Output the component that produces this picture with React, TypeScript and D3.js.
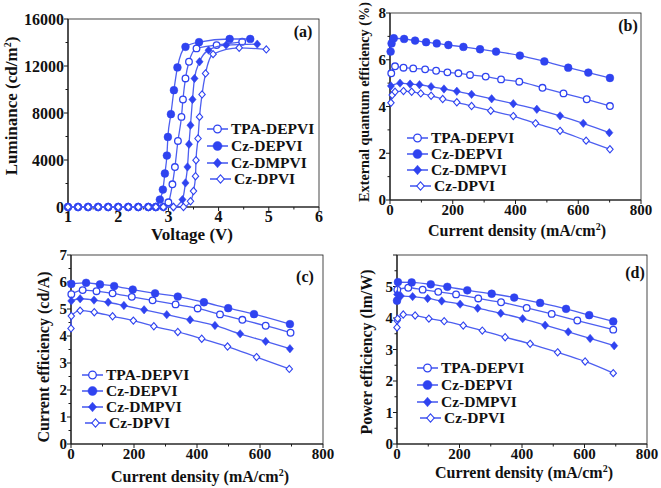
import React from "react";
import * as d3 from "d3";

type Pt = [number, number];

const BLUE = "#2f43f0";
const LINE = "#4d5ff0";
const AXIS = "#1a1a1a";
const FONT = "'Liberation Serif', 'Times New Roman', serif";

const seriesNames = ["TPA-DEPVI", "Cz-DEPVI", "Cz-DMPVI", "Cz-DPVI"];
const markerKinds = ["openCircle", "filledCircle", "filledDiamond", "openDiamond"];

// (a) Luminance vs voltage
const lumTPA: Pt[] = [[1.0,0],[1.2,0],[1.4,0],[1.6,0],[1.8,0],[2.0,0],[2.2,0],[2.4,0],[2.6,0],[2.75,0],[2.9,0],[3.0,400],[3.08,1930],[3.13,3400],[3.19,5620],[3.26,7670],[3.29,9150],[3.34,10940],[3.41,12360],[3.56,13500],[3.96,13780],[4.47,14060]];
const lumDEPVI: Pt[] = [[1.0,0],[1.2,0],[1.4,0],[1.6,0],[1.8,0],[2.0,0],[2.2,0],[2.4,0],[2.6,0],[2.75,0],[2.83,630],[2.89,1480],[2.93,2850],[2.97,4380],[2.99,5960],[3.05,7900],[3.11,9940],[3.18,11880],[3.34,13630],[3.61,14030],[4.22,14300],[4.63,14300]];
const lumDMPVI: Pt[] = [[1.0,0],[1.2,0],[1.4,0],[1.6,0],[1.8,0],[2.0,0],[2.2,0],[2.4,0],[2.6,0],[2.75,0],[2.9,0],[3.1,0],[3.28,630],[3.34,2050],[3.38,3410],[3.41,5340],[3.44,6960],[3.48,9150],[3.52,10940],[3.62,12360],[3.8,13350],[4.15,13780],[4.77,13860]];
const lumDPVI: Pt[] = [[1.0,0],[1.2,0],[1.4,0],[1.6,0],[1.8,0],[2.0,0],[2.2,0],[2.4,0],[2.6,0],[2.75,0],[2.9,0],[3.1,0],[3.3,0],[3.44,490],[3.5,1360],[3.54,2620],[3.55,3980],[3.59,5830],[3.62,7670],[3.67,9580],[3.74,11370],[3.89,13010],[4.41,13550],[4.95,13410]];

// (b) EQE vs current density
const eqeTPA: Pt[] = [[4,5.42],[16,5.72],[43,5.66],[74,5.63],[112,5.59],[147,5.53],[183,5.46],[218,5.42],[255,5.35],[305,5.28],[354,5.16],[412,5.06],[486,4.8],[553,4.56],[627,4.31],[701,4.02]];
const eqeDEPVI: Pt[] = [[2,6.35],[5,6.7],[12,6.92],[45,6.89],[80,6.82],[115,6.75],[149,6.7],[186,6.63],[234,6.55],[287,6.45],[338,6.35],[414,6.18],[492,5.93],[568,5.66],[632,5.45],[701,5.22]];
const eqeDMPVI: Pt[] = [[3,4.88],[32,5.0],[64,4.96],[94,4.93],[131,4.85],[172,4.75],[213,4.65],[260,4.52],[324,4.33],[393,4.12],[468,3.88],[542,3.6],[616,3.28],[699,2.88]];
const eqeDPVI: Pt[] = [[3,4.16],[7,4.49],[16,4.63],[43,4.66],[69,4.63],[98,4.56],[131,4.46],[168,4.32],[213,4.18],[260,4.02],[321,3.82],[393,3.59],[464,3.28],[542,2.96],[625,2.54],[701,2.17]];

// (c) Current efficiency
const ceTPA: Pt[] = [[1,5.55],[37,5.7],[81,5.66],[132,5.58],[193,5.45],[259,5.32],[332,5.17],[402,5.02],[473,4.8],[544,4.6],[618,4.38],[697,4.12]];
const ceDEPVI: Pt[] = [[1,5.93],[48,5.97],[92,5.91],[137,5.85],[196,5.72],[267,5.58],[339,5.46],[422,5.25],[499,5.03],[581,4.81],[695,4.44]];
const ceDMPVI: Pt[] = [[1,5.3],[29,5.38],[73,5.33],[118,5.25],[168,5.13],[232,4.97],[304,4.79],[378,4.6],[457,4.39],[537,4.08],[618,3.8],[695,3.53]];
const ceDPVI: Pt[] = [[0,4.28],[1,4.74],[29,4.94],[74,4.88],[132,4.73],[198,4.57],[263,4.36],[339,4.15],[415,3.9],[497,3.61],[589,3.22],[693,2.78]];

// (d) Power efficiency
const peTPA: Pt[] = [[1,4.9],[36,4.96],[82,4.9],[132,4.83],[189,4.75],[260,4.62],[333,4.5],[415,4.32],[495,4.13],[577,3.92],[692,3.63]];
const peDEPVI: Pt[] = [[0,4.55],[3,5.14],[47,5.13],[108,5.07],[161,4.99],[225,4.88],[303,4.77],[375,4.65],[458,4.48],[541,4.29],[615,4.09],[692,3.89]];
const peDMPVI: Pt[] = [[0.5,4.75],[12,4.7],[50,4.68],[98,4.62],[143,4.54],[202,4.44],[258,4.31],[332,4.15],[402,3.98],[474,3.77],[548,3.56],[618,3.35],[695,3.12]];
const peDPVI: Pt[] = [[0,3.7],[0.5,3.92],[2,3.98],[20,4.11],[58,4.08],[102,3.98],[151,3.9],[212,3.76],[273,3.6],[346,3.39],[426,3.18],[514,2.91],[602,2.62],[692,2.25]];

const voltTicks = [1, 2, 3, 4, 5, 6];
const voltMinor = [1.5, 2.5, 3.5, 4.5, 5.5];
const lumTicks = [0, 4000, 8000, 12000, 16000];
const lumMinor = [2000, 6000, 10000, 14000];
const jTicks = [0, 200, 400, 600, 800];
const jMinor = [100, 300, 500, 700];
const eqeTicks = [0, 2, 4, 6, 8];
const eqeMinor = [1, 3, 5, 7];
const ceTicks = [0, 1, 2, 3, 4, 5, 6, 7];
const ceMinor = [0.5, 1.5, 2.5, 3.5, 4.5, 5.5, 6.5];
const peTicks = [0, 1, 2, 3, 4, 5, 6];
const peLabels = ["0", "1", "2", "3", "4", "5", ""];
const peMinor = [0.5, 1.5, 2.5, 3.5, 4.5, 5.5];

interface PanelCfg {
  box: { l: number; r: number; t: number; b: number };
  xDomain: [number, number];
  yDomain: [number, number];
  xTicks: number[];
  xMinor: number[];
  yTicks: number[];
  yMinor: number[];
  yLabels?: string[];
  series: Pt[][];
  xTitle: React.ReactNode;
  yTitle: React.ReactNode;
  xTitlePos: [number, number];
  yTitlePos: [number, number];
  yTitleSize?: number;
  tag: string;
  tagPos: [number, number];
  legend: { x: number; ys: number[]; indent: number };
  tickSize: number;
  titleSize: number;
}

function Marker({ kind, x, y, s = 1 }: { kind: string; x: number; y: number; s?: number }) {
  if (kind === "openCircle")
    return <circle cx={x} cy={y} r={3.3 * s} fill="#fff" stroke={BLUE} strokeWidth={1.3} />;
  if (kind === "filledCircle")
    return <circle cx={x} cy={y} r={3.9 * s} fill={BLUE} stroke={BLUE} strokeWidth={0.5} />;
  const filled = kind === "filledDiamond";
  const hw = (filled ? 3.6 : 3.2) * s;
  const hh = (filled ? 4.2 : 3.6) * s;
  const path = d3.path();
  path.moveTo(x, y - hh);
  path.lineTo(x + hw, y);
  path.lineTo(x, y + hh);
  path.lineTo(x - hw, y);
  path.closePath();
  return (
    <path
      d={path.toString()}
      fill={filled ? BLUE : "#fff"}
      stroke={BLUE}
      strokeWidth={filled ? 0.5 : 1.1}
    />
  );
}

function Panel({ cfg }: { cfg: PanelCfg }) {
  const { box } = cfg;
  const x = d3.scaleLinear().domain(cfg.xDomain).range([box.l, box.r]);
  const y = d3.scaleLinear().domain(cfg.yDomain).range([box.b, box.t]);
  const line = d3
    .line<Pt>()
    .x((d) => x(d[0]))
    .y((d) => y(d[1]))
    .curve(d3.curveMonotoneX);
  const fmt = (v: number) => String(v);
  return (
    <g>
      <rect x={box.l} y={box.t} width={box.r - box.l} height={box.b - box.t} fill="none" stroke={AXIS} strokeWidth={0.8} />
      <line x1={box.l} x2={box.l} y1={box.t} y2={box.b} stroke={AXIS} strokeWidth={1.2} />
      <line x1={box.l} x2={box.r} y1={box.b} y2={box.b} stroke={AXIS} strokeWidth={1.2} />
      {cfg.xTicks.map((t) => (
        <g key={"xt" + t}>
          <line x1={x(t)} x2={x(t)} y1={box.b} y2={box.b + 4} stroke={AXIS} strokeWidth={1} />
          <text x={x(t)} y={box.b + 15} textAnchor="middle" fontSize={cfg.tickSize} fontWeight="bold" fontFamily={FONT} fill="#111">
            {fmt(t)}
          </text>
        </g>
      ))}
      {cfg.xMinor.map((t) => (
        <line key={"xm" + t} x1={x(t)} x2={x(t)} y1={box.b} y2={box.b + 2.5} stroke={AXIS} strokeWidth={1} />
      ))}
      {cfg.yTicks.map((t, i) => (
        <g key={"yt" + t}>
          <line x1={box.l - 4} x2={box.l} y1={y(t)} y2={y(t)} stroke={AXIS} strokeWidth={1} />
          <text x={box.l - 4} y={y(t)} dy="0.36em" textAnchor="end" fontSize={cfg.tickSize} fontWeight="bold" fontFamily={FONT} fill="#111">
            {cfg.yLabels ? cfg.yLabels[i] : fmt(t)}
          </text>
        </g>
      ))}
      {cfg.yMinor.map((t) => (
        <line key={"ym" + t} x1={box.l - 2.5} x2={box.l} y1={y(t)} y2={y(t)} stroke={AXIS} strokeWidth={1} />
      ))}
      {cfg.series.map((s, i) => (
        <g key={"s" + i}>
          <path d={line(s) || ""} fill="none" stroke={LINE} strokeWidth={1.3} />
          {s.map((p, j) => (
            <Marker key={j} kind={markerKinds[i]} x={x(p[0])} y={y(p[1])} />
          ))}
        </g>
      ))}
      {seriesNames.map((n, i) => {
        const lx = cfg.legend.x + (i === 3 ? cfg.legend.indent : 0);
        const ly = cfg.legend.ys[i];
        return (
          <g key={"lg" + i}>
            <line x1={lx} x2={lx + 21} y1={ly} y2={ly} stroke={LINE} strokeWidth={1.6} />
            <Marker kind={markerKinds[i]} x={lx + 10.5} y={ly} s={1.15} />
            <text x={lx + 24} y={ly} dy="0.35em" fontSize={15.5} fontWeight="bold" fontFamily={FONT} fill="#111">
              {n}
            </text>
          </g>
        );
      })}
      <text x={cfg.xTitlePos[0]} y={cfg.xTitlePos[1]} textAnchor="middle" fontSize={cfg.titleSize} fontWeight="bold" fontFamily={FONT} fill="#111">
        {cfg.xTitle}
      </text>
      <text
        transform={`translate(${cfg.yTitlePos[0]},${cfg.yTitlePos[1]}) rotate(-90)`}
        textAnchor="middle"
        fontSize={cfg.yTitleSize ?? cfg.titleSize}
        fontWeight="bold"
        fontFamily={FONT}
        fill="#111"
      >
        {cfg.yTitle}
      </text>
      <text x={cfg.tagPos[0]} y={cfg.tagPos[1]} textAnchor="middle" fontSize={16} fontWeight="bold" fontFamily={FONT} fill="#111">
        {cfg.tag}
      </text>
    </g>
  );
}

const jTitle = (
  <>
    Current density (mA/cm<tspan dy={-6} fontSize={10}>2</tspan>
    <tspan dy={6}>)</tspan>
  </>
);

const panels: PanelCfg[] = [
  {
    box: { l: 68, r: 319, t: 19, b: 207 },
    xDomain: [1, 6],
    yDomain: [0, 16000],
    xTicks: voltTicks,
    xMinor: voltMinor,
    yTicks: lumTicks,
    yMinor: lumMinor,
    series: [lumTPA, lumDEPVI, lumDMPVI, lumDPVI],
    xTitle: "Voltage (V)",
    yTitle: (
      <>
        Luminance (cd/m<tspan dy={-6} fontSize={10}>2</tspan>
        <tspan dy={6}>)</tspan>
      </>
    ),
    xTitlePos: [192, 240],
    yTitlePos: [17, 106],
    tag: "(a)",
    tagPos: [303, 37],
    legend: { x: 207, ys: [129, 146, 163, 179], indent: 3 },
    tickSize: 16,
    titleSize: 17,
  },
  {
    box: { l: 390, r: 641, t: 13, b: 200 },
    xDomain: [0, 800],
    yDomain: [0, 8],
    xTicks: jTicks,
    xMinor: jMinor,
    yTicks: eqeTicks,
    yMinor: eqeMinor,
    series: [eqeTPA, eqeDEPVI, eqeDMPVI, eqeDPVI],
    xTitle: jTitle,
    yTitle: "External quantum efficiency (%)",
    yTitleSize: 14.2,
    xTitlePos: [517, 236],
    yTitlePos: [369, 102],
    tag: "(b)",
    tagPos: [628, 31],
    legend: { x: 407, ys: [138, 154, 170, 186], indent: 3 },
    tickSize: 15,
    titleSize: 16,
  },
  {
    box: { l: 71, r: 323, t: 255, b: 444 },
    xDomain: [0, 800],
    yDomain: [0, 7],
    xTicks: jTicks,
    xMinor: jMinor,
    yTicks: ceTicks,
    yMinor: ceMinor,
    series: [ceTPA, ceDEPVI, ceDMPVI, ceDPVI],
    xTitle: jTitle,
    yTitle: "Current efficiency (cd/A)",
    xTitlePos: [200, 482],
    yTitlePos: [49, 357],
    tag: "(c)",
    tagPos: [305, 282],
    legend: { x: 82, ys: [375, 391, 407, 423], indent: 3 },
    tickSize: 15,
    titleSize: 16,
  },
  {
    box: { l: 397, r: 647, t: 255, b: 444 },
    xDomain: [0, 800],
    yDomain: [0, 6],
    xTicks: jTicks,
    xMinor: jMinor,
    yTicks: peTicks,
    yMinor: peMinor,
    yLabels: peLabels,
    series: [peTPA, peDEPVI, peDMPVI, peDPVI],
    xTitle: jTitle,
    yTitle: "Power efficiency (lm/W)",
    xTitlePos: [524, 478],
    yTitlePos: [372, 352],
    tag: "(d)",
    tagPos: [635, 278],
    legend: { x: 417, ys: [368, 385, 402, 418], indent: 3 },
    tickSize: 15,
    titleSize: 16,
  },
];

export default function App() {
  return (
    <svg
      width={661}
      height={488}
      viewBox="0 0 661 488"
      style={{ position: "absolute", left: 0, top: 0, background: "#fff" }}
    >
      <rect width={661} height={488} fill="#fff" />
      {panels.map((p, i) => (
        <Panel key={i} cfg={p} />
      ))}
    </svg>
  );
}
